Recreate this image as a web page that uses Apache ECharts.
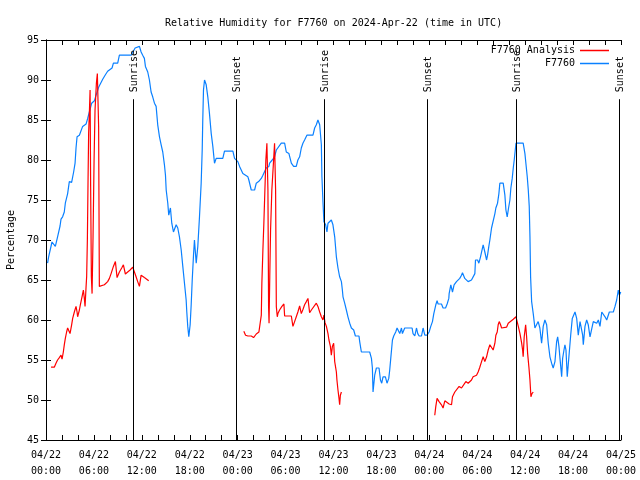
<!DOCTYPE html>
<html>
<head>
<meta charset="utf-8">
<script src="https://cdn.jsdelivr.net/npm/echarts@6/dist/echarts.min.js"></script>
<style>html,body{margin:0;padding:0;background:#fff;}#c{width:640px;height:480px;}</style>
</head>
<body>
<div id="c"></div>
<script>
// Time in hours since 2024-04-22 00:00 UTC, relative humidity in %
const blueData = [[0.20,67.1],[0.33,67.9],[0.75,69.75],[1.17,69.2],[1.45,70.4],[1.76,71.75],[1.88,72.6],[2.08,72.9],[2.29,73.5],[2.42,74.6],[2.71,75.8],[2.92,77.3],[3.21,77.2],[3.46,78.5],[3.64,79.6],[3.76,81.5],[3.89,82.9],[4.18,83.1],[4.59,84.2],[5.02,84.5],[5.22,85.2],[5.43,86.0],[5.72,87.1],[6.06,87.4],[6.27,88.1],[6.59,89.1],[7.10,90.1],[7.40,90.6],[7.72,91.1],[8.27,91.5],[8.44,92.1],[8.98,92.1],[9.19,93.1],[10.66,93.1],[10.86,93.3],[11.16,94.0],[11.70,94.2],[11.91,93.5],[12.11,93.1],[12.32,92.7],[12.45,91.7],[12.74,91.0],[12.95,90.0],[13.16,88.5],[13.36,87.9],[13.58,87.1],[13.79,86.7],[13.99,84.4],[14.21,82.9],[14.42,81.9],[14.62,81.0],[14.83,79.4],[14.96,78.1],[15.05,76.25],[15.25,74.6],[15.37,73.1],[15.58,74.0],[15.75,72.1],[15.96,71.0],[16.30,71.9],[16.50,71.5],[16.71,70.4],[16.93,68.75],[17.13,66.7],[17.34,64.6],[17.55,62.5],[17.63,61.0],[17.75,59.2],[17.88,57.9],[18.05,59.4],[18.18,61.9],[18.31,65.0],[18.47,68.1],[18.59,70.0],[18.81,67.1],[19.01,69.2],[19.22,72.9],[19.43,77.1],[19.56,81.25],[19.63,85.0],[19.72,88.75],[19.85,90.0],[20.06,89.4],[20.26,87.9],[20.47,85.8],[20.69,83.3],[20.89,81.7],[21.10,79.6],[21.31,80.2],[22.14,80.2],[22.35,81.1],[23.40,81.1],[23.61,80.2],[24.02,79.8],[24.24,79.2],[24.45,79.0],[24.65,78.3],[24.86,78.1],[25.28,77.9],[25.40,77.5],[25.70,76.25],[26.12,76.25],[26.33,77.1],[26.62,77.3],[26.96,77.7],[27.16,78.1],[27.58,79.0],[27.91,79.2],[28.00,79.6],[28.33,80.0],[28.62,80.4],[28.84,81.25],[29.04,81.25],[29.46,82.1],[29.88,82.1],[30.09,81.0],[30.42,80.8],[30.72,79.6],[31.01,79.2],[31.34,79.2],[31.54,80.0],[31.76,80.4],[31.97,81.5],[32.17,82.1],[32.38,82.5],[32.67,83.1],[33.43,83.1],[33.64,84.0],[33.85,84.4],[34.05,85.0],[34.27,84.4],[34.48,81.9],[34.55,77.9],[34.68,74.8],[34.80,72.3],[35.02,71.9],[35.18,71.0],[35.31,72.1],[35.73,72.5],[35.93,71.9],[36.15,70.4],[36.36,67.9],[36.56,66.5],[36.77,65.4],[36.99,64.8],[37.11,63.75],[37.19,62.9],[37.40,62.1],[37.61,61.25],[37.81,60.4],[38.03,59.6],[38.24,59.0],[38.53,58.75],[38.74,58.0],[39.19,58.0],[39.28,57.3],[39.49,56.0],[40.53,56.0],[40.75,55.2],[40.87,54.0],[40.95,51.0],[41.16,53.1],[41.37,54.0],[41.70,54.0],[41.88,52.5],[42.04,52.1],[42.20,52.9],[42.50,52.9],[42.70,52.1],[42.92,52.7],[43.04,53.75],[43.17,55.2],[43.38,57.5],[43.54,58.0],[43.79,58.5],[43.96,59.0],[44.17,59.0],[44.30,58.3],[44.51,59.0],[44.63,58.3],[44.92,59.0],[45.84,59.0],[45.96,58.3],[46.18,58.0],[46.39,59.0],[46.55,58.3],[46.72,58.0],[47.02,58.0],[47.22,59.0],[47.43,58.1],[47.72,58.1],[47.97,58.5],[48.18,59.2],[48.39,59.8],[48.56,60.8],[48.81,61.9],[48.97,62.4],[49.10,62.0],[49.52,62.0],[49.72,61.5],[50.03,61.5],[50.23,62.0],[50.44,62.7],[50.48,63.3],[50.69,64.4],[50.90,63.5],[51.10,64.4],[51.40,64.8],[51.81,65.2],[52.03,65.6],[52.15,65.9],[52.31,65.9],[52.44,65.2],[52.66,65.4],[52.86,64.8],[53.07,64.8],[53.28,65.0],[53.48,65.0],[53.70,65.8],[53.78,67.5],[54.04,67.5],[54.20,67.1],[54.41,67.9],[54.66,67.9],[54.74,69.4],[54.95,68.5],[55.17,67.5],[55.29,68.1],[55.45,69.2],[55.58,70.0],[55.79,71.5],[55.99,71.5],[56.21,73.3],[56.33,74.0],[56.54,74.6],[56.71,75.8],[56.83,77.1],[57.05,77.3],[57.25,77.1],[57.46,75.6],[57.59,73.75],[57.75,72.9],[57.92,74.0],[58.09,75.0],[58.21,76.5],[58.38,77.7],[58.51,79.0],[58.63,80.0],[58.85,82.1],[59.75,82.1],[59.97,80.8],[60.09,79.6],[60.26,77.9],[60.39,76.25],[60.51,74.2],[60.60,70.4],[60.68,65.4],[60.81,62.3],[61.01,60.8],[61.22,59.0],[61.43,59.0],[61.63,59.8],[61.84,59.0],[62.06,57.1],[62.26,59.2],[62.47,60.0],[62.69,59.4],[62.89,57.1],[63.10,55.4],[63.31,54.6],[63.51,54.0],[63.73,54.8],[63.94,57.3],[64.07,57.9],[64.23,56.7],[64.36,55.2],[64.57,52.9],[64.69,55.2],[64.86,56.25],[64.98,56.9],[65.11,56.25],[65.27,52.9],[65.52,52.9],[65.70,58.1],[65.90,60.2],[66.24,61.0],[66.45,60.2],[66.65,58.1],[66.87,59.8],[67.08,59.8],[67.20,58.1],[67.28,56.9],[67.49,59.2],[67.70,60.0],[67.90,59.4],[68.12,57.9],[68.33,57.9],[68.53,59.8],[68.75,59.8],[68.96,59.6],[69.16,60.0],[69.37,59.2],[69.59,61.0],[69.79,61.0],[70.00,60.4],[70.21,60.0],[70.41,60.0],[70.54,61.0],[71.04,61.0],[71.25,61.7],[71.46,62.5],[71.66,63.75],[71.79,63.1],[71.97,63.5]];

const redSeg1 = [[0.63,54.1],[0.83,54.0],[1.04,54.1],[1.25,54.6],[1.45,55.0],[1.67,55.3],[1.88,55.6],[2.01,55.1],[2.17,56.0],[2.29,56.9],[2.42,57.7],[2.58,58.5],[2.71,59.0],[2.83,58.75],[3.01,58.3],[3.21,59.4],[3.34,60.2],[3.55,61.0],[3.76,61.7],[3.89,61.0],[3.96,60.4],[4.18,61.25],[4.30,61.9],[4.51,62.9],[4.68,63.75],[4.80,62.7],[4.89,61.7],[5.02,64.2],[5.09,65.4],[5.18,70.0],[5.26,77.1],[5.34,83.4],[5.43,85.9],[5.52,88.75],[5.59,76.7],[5.68,65.4],[5.77,63.3],[5.89,70.4],[6.02,80.0],[6.14,86.25],[6.31,89.6],[6.43,90.8],[6.59,84.2],[6.68,64.2],[6.90,64.0],[7.31,64.4],[7.72,64.8],[7.94,65.2],[8.15,65.8],[8.44,66.7],[8.69,67.3],[8.90,65.3],[9.19,66.0],[9.48,66.5],[9.69,66.9],[9.94,65.75],[10.23,66.0],[10.53,66.25],[10.86,66.6],[11.07,66.0],[11.28,65.4],[11.48,64.8],[11.70,64.2],[11.91,65.6],[12.32,65.3],[12.61,65.1],[12.86,64.9]];

const redSeg2 = [[24.77,58.6],[24.99,58.1],[25.28,58.0],[25.70,58.0],[25.99,57.8],[26.33,58.25],[26.66,58.5],[26.83,58.75],[26.96,60.6],[27.03,64.6],[27.16,68.75],[27.28,72.1],[27.41,76.25],[27.53,80.0],[27.66,82.1],[27.79,76.25],[27.87,61.7],[27.93,59.6],[28.02,65.4],[28.12,71.25],[28.28,76.25],[28.50,80.0],[28.62,82.1],[28.75,76.25],[28.84,61.7],[28.96,60.4],[29.04,60.8],[29.25,61.25],[29.54,61.7],[29.79,62.0],[29.88,60.5],[30.72,60.5],[30.92,59.2],[31.13,59.8],[31.34,60.4],[31.54,61.0],[31.76,61.75],[31.97,60.8],[32.17,61.3],[32.38,61.9],[32.60,62.3],[32.80,62.7],[33.01,60.9],[33.23,61.25],[33.43,61.5],[33.85,62.1],[34.05,61.7],[34.27,61.0],[34.48,60.4],[34.68,60.0],[34.80,60.6],[34.93,59.7],[35.11,59.2],[35.31,58.3],[35.43,57.5],[35.61,56.7],[35.73,55.6],[35.86,56.7],[36.02,57.1],[36.15,54.8],[36.36,53.5],[36.43,52.5],[36.56,51.25],[36.69,50.2],[36.77,49.4],[36.86,50.6],[36.99,51.0]];

const redSeg3 = [[48.68,48.1],[48.81,49.2],[48.97,50.2],[49.22,49.8],[49.52,49.4],[49.72,49.0],[49.94,49.9],[50.15,49.7],[50.48,49.5],[50.78,49.4],[50.90,50.4],[51.19,51.0],[51.40,51.25],[51.73,51.7],[52.03,51.5],[52.23,51.75],[52.57,52.3],[52.86,52.1],[53.28,52.5],[53.48,52.9],[53.91,53.1],[54.11,53.5],[54.32,54.1],[54.54,54.8],[54.74,55.4],[54.95,54.8],[55.17,55.4],[55.37,56.25],[55.58,56.9],[55.79,57.1],[55.99,56.25],[56.21,57.1],[56.33,58.1],[56.50,58.5],[56.62,59.4],[56.75,59.8],[56.92,59.4],[57.05,59.0],[57.67,59.1],[57.88,59.6],[58.09,59.8],[58.51,60.1],[58.85,60.4],[59.01,60.6],[59.14,59.2],[59.35,58.3],[59.56,57.1],[59.68,56.25],[59.75,55.4],[59.88,57.9],[60.06,59.4],[60.18,57.9],[60.31,55.8],[60.47,54.1],[60.60,52.5],[60.72,50.4],[60.85,50.8],[61.01,51.0]];

const sunTimes = [10.86, 23.77, 34.80, 47.72, 58.88, 71.75];
const sunLabels = ['Sunrise', 'Sunset', 'Sunrise', 'Sunset', 'Sunrise', 'Sunset'];
const sunLineTop = 87.6;

const yTicks = [45, 50, 55, 60, 65, 70, 75, 80, 85, 90, 95];
const xStartDay = 22;

const FONT = 'DejaVu Sans Mono';
const BLUE = '#0a80ff';
const RED = '#ff0000';

function pad(n) { return (n < 10 ? '0' : '') + n; }

const chart = echarts.init(document.getElementById('c'), null, { renderer: 'canvas' });

const tickCommon = { show: true, inside: true, length: 5, lineStyle: { color: '#000', width: 1 } };
const lineCommon = { show: true, lineStyle: { color: '#000', width: 1 } };

const redSeries = [redSeg1, redSeg2, redSeg3].map(seg => ({
  name: 'F7760 Analysis', type: 'line', data: seg, symbol: 'none', showSymbol: false,
  lineStyle: { color: RED, width: 1.2 }, itemStyle: { color: RED }, z: 4
}));

chart.setOption({
  animation: false,
  backgroundColor: '#fff',
  title: {
    text: 'Relative Humidity for F7760 on 2024-Apr-22 (time in UTC)',
    left: 160, top: 13,
    textStyle: { fontFamily: FONT, fontSize: 10, fontWeight: 'normal', color: '#000' }
  },
  legend: {
    data: [
      { name: 'F7760 Analysis', icon: 'rect', itemStyle: { color: RED } },
      { name: 'F7760', icon: 'rect', itemStyle: { color: BLUE } }
    ],
    orient: 'vertical', right: 26, top: 40, align: 'right',
    itemWidth: 29, itemHeight: 1.5,
    itemGap: 2,
    textStyle: { fontFamily: FONT, fontSize: 10, color: '#000', lineHeight: 11 }
  },
  grid: { left: 46, right: 19, top: 40, bottom: 40, containLabel: false, outerBoundsMode: 'none' },
  xAxis: [{
    type: 'value', min: 0, max: 72, interval: 6, position: 'bottom',
    axisLine: lineCommon, axisTick: tickCommon,
    minorTick: { show: true, splitNumber: 3, length: 5, lineStyle: { color: '#000', width: 1 } },
    splitLine: { show: false },
    axisLabel: {
      fontFamily: FONT, fontSize: 10, color: '#000', margin: 7, lineHeight: 16,
      formatter: v => '04/' + (xStartDay + Math.floor(v / 24)) + '\n' + pad(v % 24) + ':00'
    }
  }, {
    type: 'value', min: 0, max: 72, interval: 6, position: 'top',
    axisLine: lineCommon, axisTick: tickCommon,
    minorTick: { show: true, splitNumber: 3, length: 5, lineStyle: { color: '#000', width: 1 } },
    splitLine: { show: false }, axisLabel: { show: false }
  }],
  yAxis: [{
    type: 'value', min: yTicks[0], max: yTicks[yTicks.length - 1], interval: 5, position: 'left',
    axisLine: lineCommon, axisTick: tickCommon, splitLine: { show: false },
    axisLabel: { fontFamily: FONT, fontSize: 10, color: '#000', margin: 7 },
    name: 'Percentage', nameLocation: 'middle', nameGap: 30, nameRotate: 90,
    nameTextStyle: { fontFamily: FONT, fontSize: 10, color: '#000' }
  }, {
    type: 'value', min: yTicks[0], max: yTicks[yTicks.length - 1], interval: 5, position: 'right',
    axisLine: lineCommon, axisTick: tickCommon, splitLine: { show: false }, axisLabel: { show: false }
  }],
  series: [
    {
      name: 'F7760', type: 'line', data: blueData, symbol: 'none', showSymbol: false,
      lineStyle: { color: BLUE, width: 1.2 }, itemStyle: { color: BLUE }, z: 3
    },
    ...redSeries,
    {
      name: 'sun', type: 'custom', clip: false, z: 5,
      data: sunTimes.map((t, i) => [t, i]),
      renderItem: function (params, api) {
        const t = api.value(0);
        const idx = api.value(1);
        const top = api.coord([t, sunLineTop]);
        const bot = api.coord([t, yTicks[0]]);
        const x = Math.round(top[0]) + 0.5;
        return {
          type: 'group',
          children: [
            { type: 'line', shape: { x1: x, y1: top[1], x2: x, y2: bot[1] }, style: { stroke: '#000', lineWidth: 1 } },
            {
              type: 'text', x: x + 1, y: top[1] - 7, rotation: Math.PI / 2,
              style: { text: sunLabels[idx], fill: '#000', font: '10px "' + FONT + '"', textAlign: 'left', textVerticalAlign: 'middle' }
            }
          ]
        };
      }
    }
  ]
});
</script>
</body>
</html>
